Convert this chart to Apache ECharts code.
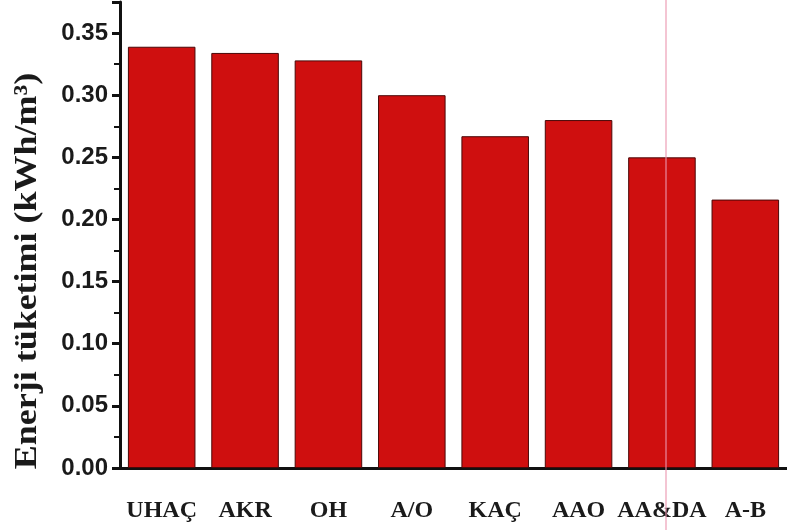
<!DOCTYPE html>
<html>
<head>
<meta charset="utf-8">
<script src="https://cdn.jsdelivr.net/npm/echarts@6/dist/echarts.min.js"></script>
<style>
  html, body { margin: 0; padding: 0; background: #fff; }
  #chart { width: 787px; height: 530px; }
</style>
</head>
<body>
<div id="chart"></div>
<script>
// Energy consumption per treatment process (kWh/m³)
const categories = ['UHAÇ', 'AKR', 'OH', 'A/O', 'KAÇ', 'AAO', 'AA&DA', 'A-B'];
const energyUse = [0.339, 0.334, 0.328, 0.300, 0.267, 0.280, 0.250, 0.216];
const yTickValues = [0, 0.05, 0.10, 0.15, 0.20, 0.25, 0.30, 0.35];
const yAxisTitle = 'Enerji tüketimi (kWh/m³)';

const chart = echarts.init(document.getElementById('chart'), null, { renderer: 'canvas' });

chart.setOption({
  animation: false,
  backgroundColor: '#ffffff',
  grid: { left: 120, top: 2, width: 673, bottom: 62, containLabel: false },
  xAxis: {
    type: 'category',
    data: categories,
    axisLine: { lineStyle: { color: '#111', width: 3 } },
    axisTick: { show: false },
    axisLabel: {
      interval: 0,
      margin: 31,
      fontFamily: '"Liberation Serif", "Times New Roman", serif',
      fontWeight: 'bold',
      fontSize: 24,
      color: '#1a1a1a'
    }
  },
  yAxis: {
    type: 'value',
    min: 0,
    max: 0.375,
    interval: 0.05,
    splitLine: { show: false },
    axisLine: { show: true, lineStyle: { color: '#111', width: 3 } },
    axisTick: { show: true, length: 8, lineStyle: { width: 3, color: '#111' } },
    minorTick: { show: true, splitNumber: 2, length: 6, lineStyle: { width: 2, color: '#111' } },
    axisLabel: {
      margin: 12,
      showMaxLabel: false,
      fontFamily: '"Liberation Sans", Arial, sans-serif',
      fontWeight: 'bold',
      fontSize: 24,
      color: '#1a1a1a',
      formatter: v => yTickValues.some(t => Math.abs(t - v) < 1e-9) ? v.toFixed(2) : ''
    }
  },
  series: [{
    type: 'bar',
    data: energyUse,
    barCategoryGap: '19%',
    itemStyle: { color: '#cf0f0f', borderColor: '#4a0808', borderWidth: 1 }
  }],
  graphic: [
    {
      type: 'text',
      x: 28,
      y: 271,
      rotation: Math.PI / 2,
      scaleX: 1.09,
      scaleY: 0.95,
      style: {
        text: yAxisTitle,
        fill: '#1a1a1a',
        font: 'bold 33px "Liberation Serif", "Times New Roman", serif',
        align: 'center',
        verticalAlign: 'middle'
      }
    },
    {
      type: 'line',
      shape: { x1: 666, y1: 0, x2: 666, y2: 530 },
      style: { stroke: 'rgba(235, 150, 175, 0.55)', lineWidth: 2 },
      z: 100
    }
  ]
});
</script>
</body>
</html>
